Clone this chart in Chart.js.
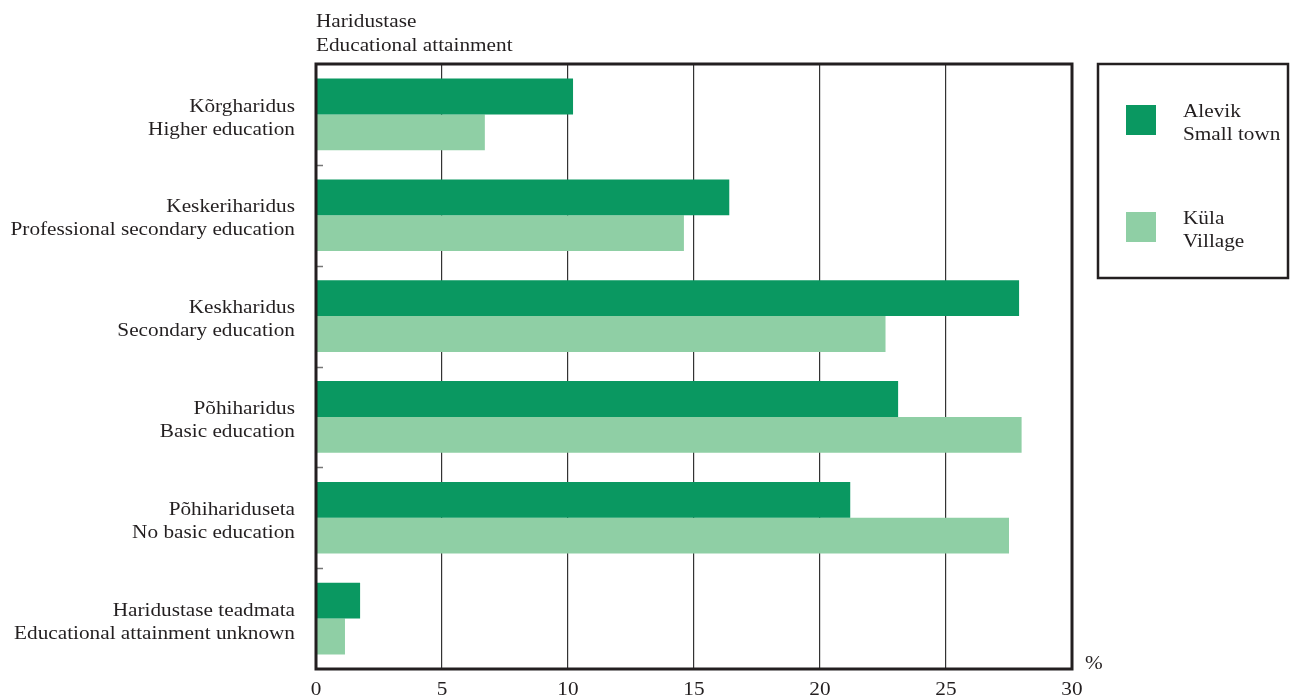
<!DOCTYPE html>
<html>
<head>
<meta charset="utf-8">
<script src="https://cdn.jsdelivr.net/npm/chart.js@4"></script>
<style>
  html, body { margin: 0; padding: 0; background: #fff; }
  #wrap { width: 1290px; height: 698px; }
</style>
</head>
<body>
<div id="wrap"><canvas id="chart" width="1290" height="698"></canvas></div>
<script>
// ---- data ----
const categories = [
  ['Kõrgharidus', 'Higher education'],
  ['Keskeriharidus', 'Professional secondary education'],
  ['Keskharidus', 'Secondary education'],
  ['Põhiharidus', 'Basic education'],
  ['Põhihariduseta', 'No basic education'],
  ['Haridustase teadmata', 'Educational attainment unknown']
];
const smallTown = [10.2, 16.4, 27.9, 23.1, 21.2, 1.75];
const village = [6.7, 14.6, 22.6, 28.0, 27.5, 1.15];
const seriesNames = [['Alevik', 'Small town'], ['Küla', 'Village']];
const xTicks = [0, 5, 10, 15, 20, 25, 30];
const titleLines = ['Haridustase', 'Educational attainment'];

const DARK = '#0a9861';
const LIGHT = '#8fcfa5';
const FONT = '"Liberation Serif", "Times New Roman", serif';
const TEXT = '#231f20';
const SX = 1.09; // the original type is set a little wide

// text drawn slightly stretched horizontally
function wideText(ctx, str, x, y, align) {
  const w = ctx.measureText(str).width * SX;
  const x0 = align === 'right' ? x - w : align === 'center' ? x - w / 2 : x;
  ctx.save();
  ctx.translate(x0, y);
  ctx.scale(SX, 1);
  ctx.textAlign = 'left';
  ctx.fillText(str, 0, 0);
  ctx.restore();
}

// frame, inner category ticks, labels, titles and legend box
const extras = {
  id: 'extras',
  afterDraw(chart) {
    const { ctx, chartArea: a, scales } = chart;
    const y = scales.y, x = scales.x;
    ctx.save();
    // little tick marks between categories on the left edge
    ctx.strokeStyle = '#777';
    ctx.lineWidth = 1.5;
    for (let i = 1; i < categories.length; i++) {
      const yy = Math.round((y.getPixelForValue(i - 1) + y.getPixelForValue(i)) / 2) + 0.5;
      ctx.beginPath();
      ctx.moveTo(a.left, yy);
      ctx.lineTo(a.left + 7, yy);
      ctx.stroke();
    }
    // frame
    ctx.strokeStyle = '#231f20';
    ctx.lineWidth = 3;
    ctx.strokeRect(a.left, a.top, a.right - a.left, a.bottom - a.top);

    ctx.fillStyle = TEXT;
    ctx.font = '19.5px ' + FONT;
    ctx.textBaseline = 'middle';

    // category labels
    categories.forEach((lines, i) => {
      const cy = y.getPixelForValue(i);
      wideText(ctx, lines[0], a.left - 21, cy - 8, 'right');
      wideText(ctx, lines[1], a.left - 21, cy + 15, 'right');
    });
    // value labels
    xTicks.forEach(v => wideText(ctx, String(v), x.getPixelForValue(v), a.bottom + 21, 'center'));

    wideText(ctx, titleLines[0], a.left, 22, 'left');
    wideText(ctx, titleLines[1], a.left, 46, 'left');
    wideText(ctx, '%', a.right + 13, 664, 'left');

    // legend
    const lx = 1098, ly = 64, lw = 190, lh = 214;
    ctx.lineWidth = 2.5;
    ctx.strokeRect(lx, ly, lw, lh);
    chart.data.datasets.forEach((ds, i) => {
      const sy = 105 + i * 107;
      ctx.fillStyle = ds.backgroundColor;
      ctx.fillRect(1126, sy, 30, 30);
      ctx.fillStyle = TEXT;
      ds.label.forEach((line, j) => wideText(ctx, line, 1183, sy + 7 + j * 23, 'left'));
    });
    ctx.restore();
  }
};

new Chart(document.getElementById('chart'), {
  type: 'bar',
  data: {
    labels: categories,
    datasets: [
      { label: seriesNames[0], data: smallTown, backgroundColor: DARK, categoryPercentage: 0.71, barPercentage: 1 },
      { label: seriesNames[1], data: village, backgroundColor: LIGHT, categoryPercentage: 0.71, barPercentage: 1 }
    ]
  },
  options: {
    indexAxis: 'y',
    responsive: false,
    animation: false,
    layout: { padding: { top: 64, right: 218, left: 0, bottom: 0 } },
    plugins: { legend: { display: false }, tooltip: { enabled: false } },
    scales: {
      x: {
        min: 0, max: 30,
        afterBuildTicks: s => { s.ticks = xTicks.map(v => ({ value: v })); },
        afterFit: s => { s.height = 29; s.paddingLeft = 0; s.paddingRight = 0; },
        grid: { color: '#333', lineWidth: 1.2, drawTicks: false },
        border: { display: false },
        ticks: { display: false }
      },
      y: {
        afterFit: s => { s.width = 316; s.paddingTop = 0; s.paddingBottom = 0; },
        grid: { display: false, drawTicks: false },
        border: { display: false },
        ticks: { display: false }
      }
    }
  },
  plugins: [extras]
});
</script>
</body>
</html>
